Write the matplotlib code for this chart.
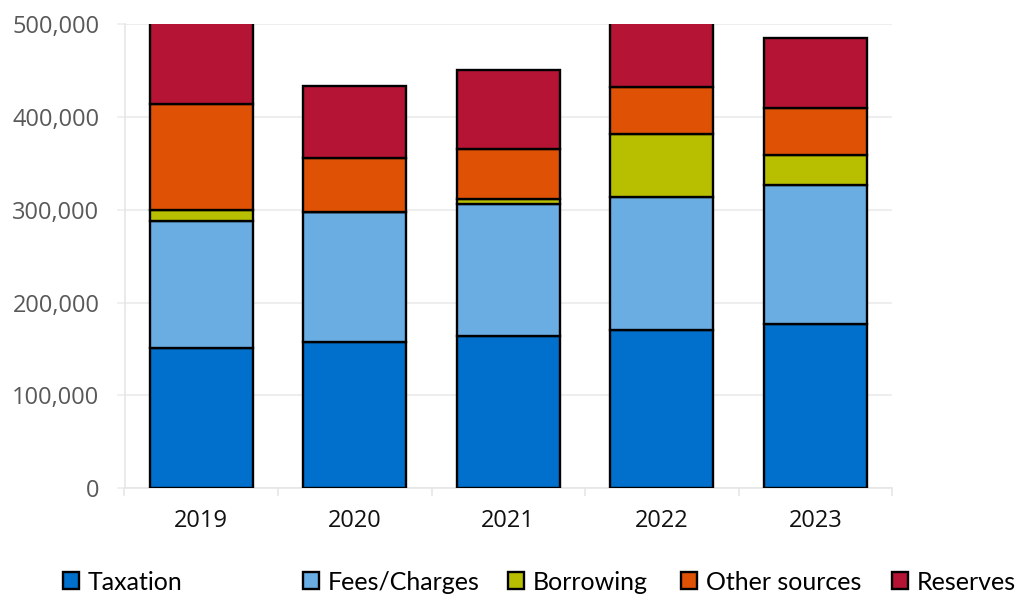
import matplotlib
matplotlib.use("Agg")
import matplotlib.pyplot as plt
from matplotlib.patches import Patch
from matplotlib.ticker import FuncFormatter, FixedLocator
import numpy as np

plt.rcParams["font.family"] = ["Open Sans", "DejaVu Sans"]

years = ["2019", "2020", "2021", "2022", "2023"]
series_names = ["Taxation", "Fees/Charges", "Borrowing", "Other sources", "Reserves"]
taxation = [151200, 157600, 163800, 170200, 177400]
fees_charges = [136500, 139500, 142700, 143300, 148700]
borrowing = [11500, 0, 5300, 68500, 32300]
other_sources = [114600, 58800, 53800, 50600, 51600]
reserves = [106000, 77400, 84900, 80000, 74500]
y_ticks = [0, 100000, 200000, 300000, 400000, 500000]

colors = ["#0070CC", "#6AADE3", "#B7BF00", "#DF5206", "#B51434"]
values = [taxation, fees_charges, borrowing, other_sources, reserves]

W, H = 1015, 595
fig = plt.figure(figsize=(W / 100, H / 100), dpi=100)
ax = fig.add_axes([124.5 / W, 1 - 488.3 / H, (892 - 124.5) / W, (488.3 - 24) / H])

x = np.arange(len(years))
bottom = np.zeros(len(years))
for name, vals, col in zip(series_names, values, colors):
    v = np.array(vals, dtype=float)
    ax.bar(x, v, bottom=bottom, width=0.67, color=col, edgecolor="black",
           linewidth=1.7, label=name, zorder=3)
    bottom += v

ax.set_xlim(-0.5, len(years) - 0.5)
ax.set_ylim(0, 500000)

grid_col = "#E6E6E6"
ax.yaxis.set_major_locator(FixedLocator(y_ticks))
ax.yaxis.set_major_formatter(FuncFormatter(lambda v, p: f"{int(v):,}"))
ax.grid(axis="y", color="#EEEEEE", linewidth=1.5, zorder=0)
ax.tick_params(axis="y", length=6, width=1.2, color="#EEEEEE", pad=12,
               labelsize=17, labelcolor="#595959")

ax.set_xticks(x)
ax.set_xticklabels(years, fontsize=17, color="#111111")
ax.set_xticks(np.arange(-0.5, len(years)), minor=True)
ax.tick_params(axis="x", which="major", length=0, pad=15)
ax.tick_params(axis="x", which="minor", length=6, width=1.2, color=grid_col)

for s in ["top", "right"]:
    ax.spines[s].set_visible(False)
ax.spines["left"].set_color(grid_col)
ax.spines["left"].set_linewidth(1.2)
ax.spines["bottom"].set_color(grid_col)
ax.spines["bottom"].set_linewidth(1.2)

# one legend entry per series, placed along the bottom
legend_x = [63, 303, 508, 681, 892]
for name, col, lx in zip(series_names, colors, legend_x):
    handle = Patch(facecolor=col, edgecolor="black", linewidth=1.7)
    fig.legend(handles=[handle], labels=[name], loc="center left",
               bbox_to_anchor=(lx / W, 1 - 582 / H), frameon=False,
               prop={"family": "Lato", "size": 18},
               handlelength=0.65, handleheight=0.65, handletextpad=0.35,
               borderpad=0, borderaxespad=0)

fig.savefig("out.png", dpi=100)
